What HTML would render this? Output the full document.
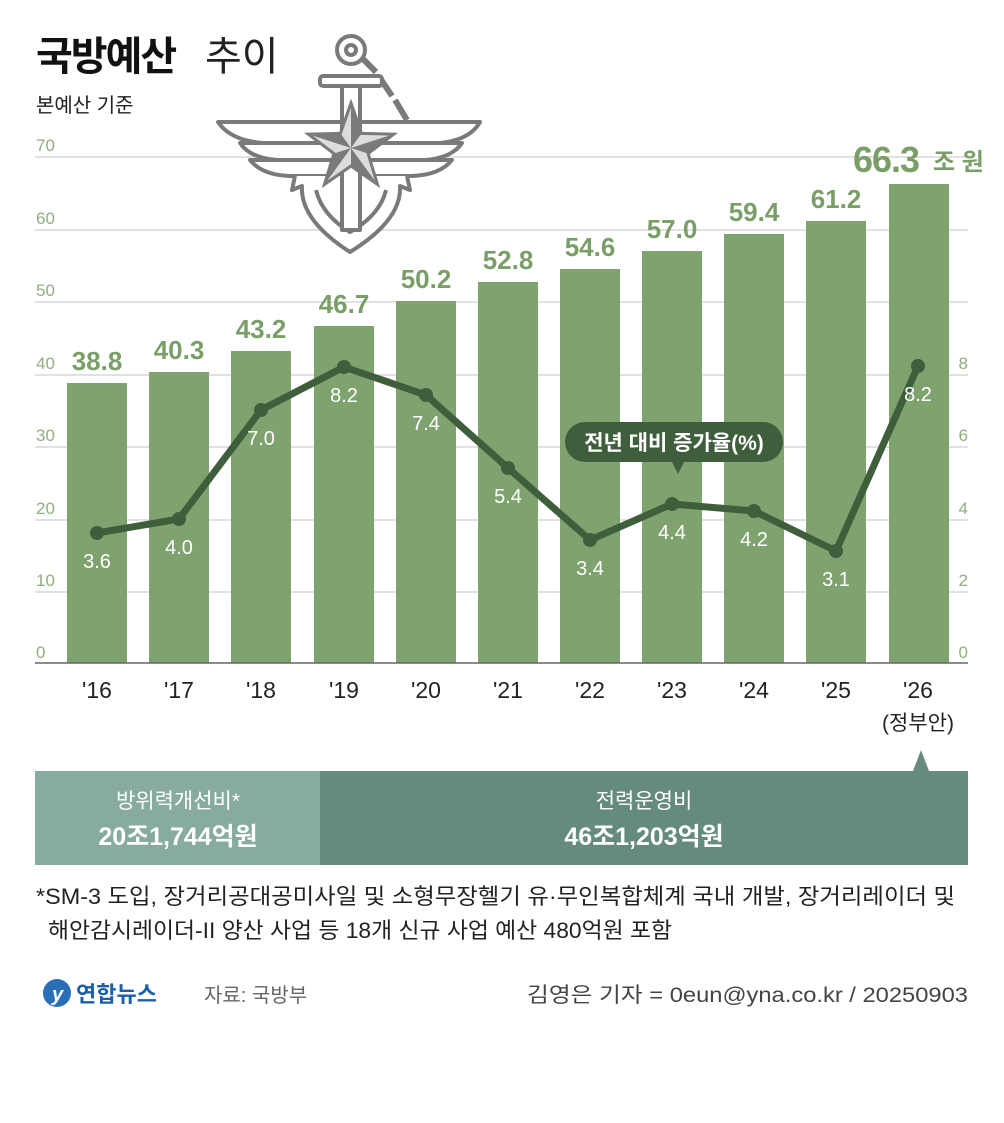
<!DOCTYPE html>
<html><head><meta charset="utf-8"><style>
body{margin:0;background:#fff;}
svg text{font-family:"Liberation Sans","Noto Sans CJK KR",sans-serif;}
</style></head><body>
<svg width="1004" height="1118" viewBox="0 0 1004 1118" xmlns="http://www.w3.org/2000/svg">
<rect width="1004" height="1118" fill="#fff"/>
<g stroke="#cfcfcf" stroke-width="1.3">
<line x1="35" x2="968" y1="157" y2="157"/>
<line x1="35" x2="968" y1="230" y2="230"/>
<line x1="35" x2="968" y1="302" y2="302"/>
<line x1="35" x2="968" y1="375" y2="375"/>
<line x1="35" x2="968" y1="447" y2="447"/>
<line x1="35" x2="968" y1="520" y2="520"/>
<line x1="35" x2="968" y1="592" y2="592"/>
</g>
<g font-size="17" fill="#8fae7f">
<text x="36" y="151">70</text><text x="36" y="224">60</text><text x="36" y="296">50</text>
<text x="36" y="369">40</text><text x="36" y="441">30</text><text x="36" y="514">20</text>
<text x="36" y="586">10</text><text x="36" y="658">0</text>
</g>
<g font-size="17" fill="#8fae7f" text-anchor="end">
<text x="968" y="369">8</text><text x="968" y="441">6</text><text x="968" y="514">4</text>
<text x="968" y="586">2</text><text x="968" y="658">0</text>
</g>
<g fill="#fff" stroke="#7a7a7a" stroke-width="4" stroke-linejoin="round">
<circle cx="351" cy="50" r="14" fill="none"/><circle cx="351" cy="50" r="5" fill="none"/>
<path d="M362 58 L376 72 M380 78 L392 96 M395 100 L407 120" fill="none" stroke-width="6"/>
<rect x="320" y="76" width="62" height="10" rx="3"/>
<path d="M218 122 H480 Q470 140 440 143 H262 Q230 140 218 122Z"/>
<path d="M240 143 H462 Q452 158 425 160 H277 Q250 158 240 143Z"/>
<path d="M250 160 H452 Q440 175 412 176 H290 Q262 175 250 160Z"/>
<path d="M295 176 L292 190 L302 186 Q300 220 350 252 Q402 220 400 186 L410 190 L407 176"/>
<path d="M316 190 Q322 215 350 232 Q380 215 386 190" fill="none"/>
<rect x="342" y="86" width="18" height="144"/>
</g>
<polygon points="351,103 361.6,133.4 393.8,134.1 368.1,153.6 377.5,184.4 351,166 324.5,184.4 333.9,153.6 308.2,134.1 340.4,133.4" fill="#dcdcdc" stroke="#7a7a7a" stroke-width="3"/>
<g fill="#7a7a7a">
<polygon points="351,148 351,103 361.6,133.4"/>
<polygon points="351,148 393.8,134.1 368.1,153.6"/>
<polygon points="351,148 377.5,184.4 351,166"/>
<polygon points="351,148 324.5,184.4 333.9,153.6"/>
<polygon points="351,148 308.2,134.1 340.4,133.4"/>
</g>
<text x="36" y="70" font-size="40" font-weight="bold" fill="#111" letter-spacing="-2">국방예산</text>
<text x="205" y="70" font-size="40" fill="#222">추이</text>
<text x="36" y="112" font-size="20" fill="#222">본예산 기준</text>
<g fill="#7fa36f">
<rect x="67" y="383" width="60" height="280"/>
<rect x="149" y="372" width="60" height="291"/>
<rect x="231" y="351" width="60" height="312"/>
<rect x="314" y="326" width="60" height="337"/>
<rect x="396" y="301" width="60" height="362"/>
<rect x="478" y="282" width="60" height="381"/>
<rect x="560" y="269" width="60" height="394"/>
<rect x="642" y="251" width="60" height="412"/>
<rect x="724" y="234" width="60" height="429"/>
<rect x="806" y="221" width="60" height="442"/>
<rect x="889" y="184" width="60" height="479"/>
</g>
<line x1="35" x2="968" y1="663" y2="663" stroke="#666" stroke-width="1.5"/>
<g font-size="26" font-weight="bold" fill="#7a9e68" text-anchor="middle">
<text x="97" y="370">38.8</text><text x="179" y="359">40.3</text><text x="261" y="338">43.2</text>
<text x="344" y="313">46.7</text><text x="426" y="288">50.2</text><text x="508" y="269">52.8</text>
<text x="590" y="256">54.6</text><text x="672" y="238">57.0</text><text x="754" y="221">59.4</text>
<text x="836" y="208">61.2</text>
</g>
<text x="853" y="172" font-size="36" font-weight="bold" fill="#7a9e68" letter-spacing="-1">66.3</text>
<text x="933" y="170" font-size="24" font-weight="bold" fill="#7a9e68">조 원</text>
<polyline points="97,533 179,519 261,410 344,367 426,395 508,468 590,540 672,504 754,511 836,551 918,366" fill="none" stroke="#3f5e3c" stroke-width="7" stroke-linejoin="round"/>
<g fill="#3f5e3c">
<circle cx="97" cy="533" r="7"/><circle cx="179" cy="519" r="7"/><circle cx="261" cy="410" r="7"/>
<circle cx="344" cy="367" r="7"/><circle cx="426" cy="395" r="7"/><circle cx="508" cy="468" r="7"/>
<circle cx="590" cy="540" r="7"/><circle cx="672" cy="504" r="7"/><circle cx="754" cy="511" r="7"/>
<circle cx="836" cy="551" r="7"/><circle cx="918" cy="366" r="7"/>
</g>
<g font-size="20" fill="#fff" text-anchor="middle">
<text x="97" y="568">3.6</text><text x="179" y="554">4.0</text><text x="261" y="445">7.0</text>
<text x="344" y="402">8.2</text><text x="426" y="430">7.4</text><text x="508" y="503">5.4</text>
<text x="590" y="575">3.4</text><text x="672" y="539">4.4</text><text x="754" y="546">4.2</text>
<text x="836" y="586">3.1</text><text x="918" y="401">8.2</text>
</g>
<rect x="565" y="422" width="218" height="40" rx="20" fill="#3f5e3c"/>
<polygon points="672,462 684,462 678,474" fill="#3f5e3c"/>
<text x="674" y="450" font-size="21" font-weight="bold" fill="#fff" text-anchor="middle">전년 대비 증가율(%)</text>
<g font-size="23" fill="#222" text-anchor="middle">
<text x="97" y="698">'16</text><text x="179" y="698">'17</text><text x="261" y="698">'18</text>
<text x="344" y="698">'19</text><text x="426" y="698">'20</text><text x="508" y="698">'21</text>
<text x="590" y="698">'22</text><text x="672" y="698">'23</text><text x="754" y="698">'24</text>
<text x="836" y="698">'25</text><text x="918" y="698">'26</text>
<text x="918" y="730" font-size="21">(정부안)</text>
</g>
<rect x="35" y="771" width="285" height="94" fill="#87ab9c"/>
<rect x="320" y="771" width="648" height="94" fill="#658a7e"/>
<polygon points="921,750 913,771 929,771" fill="#658a7e"/>
<g fill="#fff" text-anchor="middle">
<text x="178" y="808" font-size="21">방위력개선비*</text>
<text x="178" y="845" font-size="25" font-weight="bold">20조1,744억원</text>
<text x="644" y="808" font-size="21">전력운영비</text>
<text x="644" y="845" font-size="25" font-weight="bold">46조1,203억원</text>
</g>
<g font-size="22" fill="#222">
<text x="36" y="904" textLength="919" lengthAdjust="spacingAndGlyphs">*SM-3 도입, 장거리공대공미사일 및 소형무장헬기 유·무인복합체계 국내 개발, 장거리레이더 및</text>
<text x="48" y="938" textLength="624" lengthAdjust="spacingAndGlyphs">해안감시레이더-II 양산 사업 등 18개 신규 사업 예산 480억원 포함</text>
</g>
<circle cx="57" cy="993" r="14" fill="#2a6fb5"/>
<text x="52" y="1001" font-size="20" font-style="italic" font-weight="bold" fill="#fff">y</text>
<text x="76" y="1002" font-size="22" font-weight="bold" fill="#1d5fa8">연합뉴스</text>
<text x="204" y="1002" font-size="20" fill="#666">자료: 국방부</text>
<text x="527" y="1002" font-size="21" fill="#444" textLength="441" lengthAdjust="spacingAndGlyphs">김영은 기자 = 0eun@yna.co.kr / 20250903</text>
</svg>
</body></html>
